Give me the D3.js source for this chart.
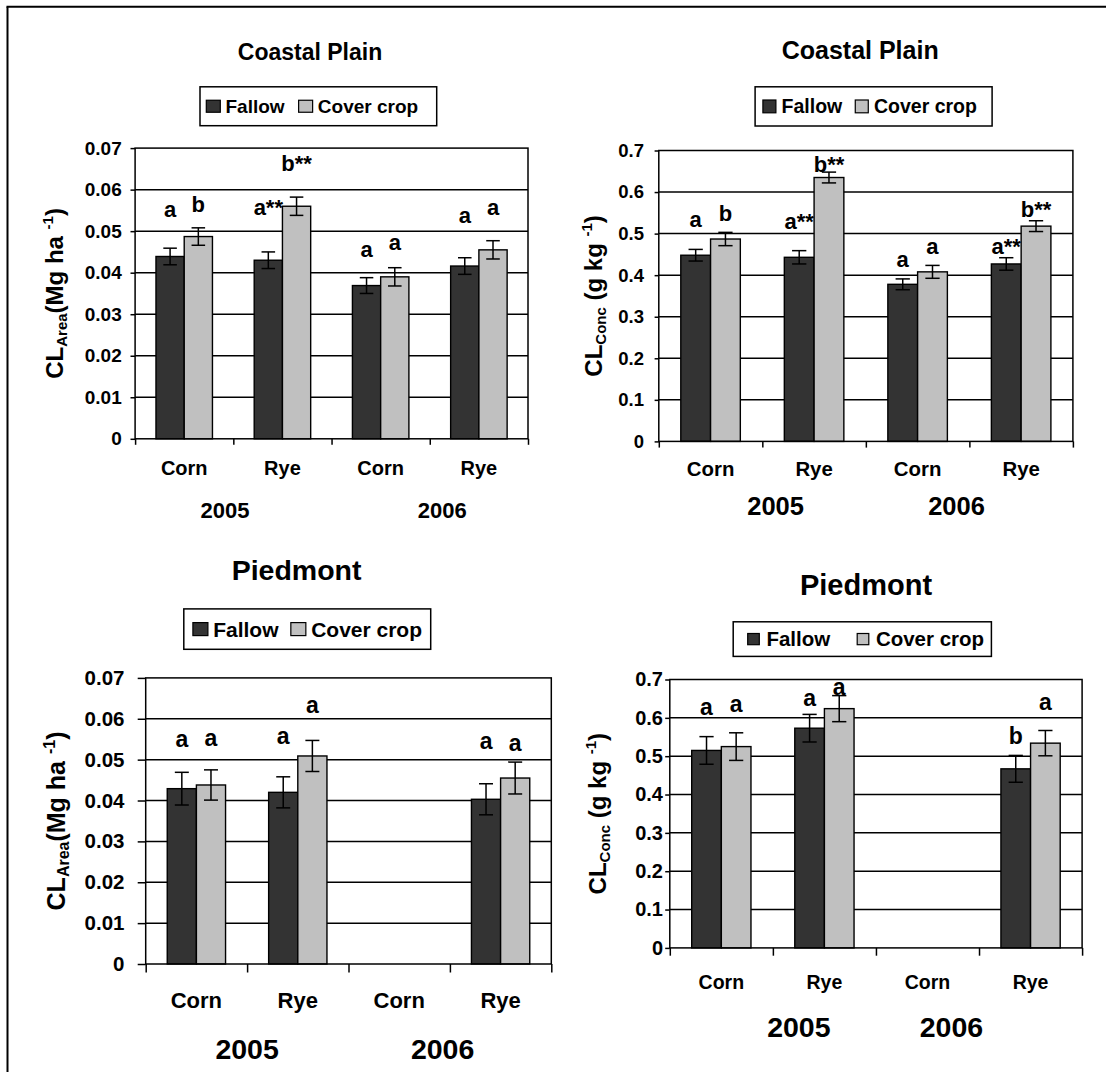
<!DOCTYPE html>
<html>
<head>
<meta charset="utf-8">
<script src="https://cdn.jsdelivr.net/npm/d3@7"></script>
<style>
  body { margin: 0; background: #fff; }
  svg text { font-family: "Liberation Sans", Arial, sans-serif; font-weight: bold; fill: #000; }
</style>
</head>
<body>
<div id="chart"></div>
<script>
// ---- data ----
const categories = ["Corn", "Rye", "Corn", "Rye"];
const years = ["2005", "2006"];
const seriesNames = ["Fallow", "Cover crop"];
const seriesColors = ["#333333", "#c0c0c0"];

const areaTicks = [0, 0.01, 0.02, 0.03, 0.04, 0.05, 0.06, 0.07];
const areaTickLabels = ["0", "0.01", "0.02", "0.03", "0.04", "0.05", "0.06", "0.07"];
const concTicks = [0, 0.1, 0.2, 0.3, 0.4, 0.5, 0.6, 0.7];
const concTickLabels = ["0", "0.1", "0.2", "0.3", "0.4", "0.5", "0.6", "0.7"];

// Coastal Plain, CL area (Mg ha-1)
const cpAreaFallow = [0.0439, 0.0430, 0.0369, 0.0416];
const cpAreaFallowErr = [0.0020, 0.0020, 0.0019, 0.0020];
const cpAreaCover = [0.0487, 0.0560, 0.0390, 0.0455];
const cpAreaCoverErr = [0.0021, 0.0022, 0.0022, 0.0022];
const cpAreaFallowLetters = ["a", "a**", "a", "a"];
const cpAreaCoverLetters = ["b", "b**", "a", "a"];
const cpAreaFallowLetterAt = [0.0534, 0.0540, 0.0438, 0.0520];
const cpAreaCoverLetterAt = [0.0546, 0.0644, 0.0454, 0.0538];

// Coastal Plain, CL conc (g kg-1)
const cpConcFallow = [0.448, 0.443, 0.378, 0.427];
const cpConcFallowErr = [0.014, 0.016, 0.013, 0.015];
const cpConcCover = [0.487, 0.635, 0.408, 0.518];
const cpConcCoverErr = [0.016, 0.013, 0.0155, 0.013];
const cpConcFallowLetters = ["a", "a**", "a", "a**"];
const cpConcCoverLetters = ["b", "b**", "a", "b**"];
const cpConcFallowLetterAt = [0.516, 0.512, 0.420, 0.452];
const cpConcCoverLetterAt = [0.530, 0.648, 0.450, 0.540];

// Piedmont, CL area (no 2006 corn)
const pdAreaFallow = [0.0429, 0.0420, null, 0.0403];
const pdAreaFallowErr = [0.0040, 0.0038, null, 0.0038];
const pdAreaCover = [0.0438, 0.0509, null, 0.0455];
const pdAreaCoverErr = [0.0037, 0.0038, null, 0.0039];
const pdAreaFallowLetters = ["a", "a", null, "a"];
const pdAreaCoverLetters = ["a", "a", null, "a"];
const pdAreaFallowLetterAt = [0.0531, 0.0539, null, 0.0527];
const pdAreaCoverLetterAt = [0.0533, 0.0613, null, 0.0522];

// Piedmont, CL conc
const pdConcFallow = [0.515, 0.573, null, 0.467];
const pdConcFallowErr = [0.036, 0.036, null, 0.035];
const pdConcCover = [0.525, 0.624, null, 0.534];
const pdConcCoverErr = [0.036, 0.034, null, 0.033];
const pdConcFallowLetters = ["a", "a", null, "b"];
const pdConcCoverLetters = ["a", "a", null, "a"];
const pdConcFallowLetterAt = [0.608, 0.632, null, 0.533];
const pdConcCoverLetterAt = [0.614, 0.659, null, 0.620];

const areaTitle = {main: "CL", sub: "Area", rest: "(Mg ha ", sup: "-1", end: ")"};
const concTitle = {main: "CL", sub: "Conc", rest: " (g kg ", sup: "-1", end: ")"};

// ---- layout of the four panels ----
const panels = [
  { title: "Coastal Plain", ticks: areaTicks, tickLabels: areaTickLabels, yTitle: areaTitle,
    values: [cpAreaFallow, cpAreaCover], errs: [cpAreaFallowErr, cpAreaCoverErr],
    letters: [cpAreaFallowLetters, cpAreaCoverLetters], letterAt: [cpAreaFallowLetterAt, cpAreaCoverLetterAt],
    l: 135.1, r: 528, t: 148.1, b: 438.8,
    titleX: 310, titleY: 60, titleSize: 23,
    legend: {x: 200, y: 86.8, w: 236.7, h: 38.9, font: 19, sw: 14, sh: 12, pad: 6.3, tgap: 5.2, gap: 14},
    ytick: 4.6, xtick: 6, labelGap: 13.4, tickFont: 19,
    catFont: 20, catY: 474.5, yearFont: 22, yearY: 517.6, yearFrac: [0.2286, 0.782],
    yTitleX: 63.3, yTitleFont: 24, yTitleSub: 15, letterFont: 22 },
  { title: "Coastal Plain", ticks: concTicks, tickLabels: concTickLabels, yTitle: concTitle,
    values: [cpConcFallow, cpConcCover], errs: [cpConcFallowErr, cpConcCoverErr],
    letters: [cpConcFallowLetters, cpConcCoverLetters], letterAt: [cpConcFallowLetterAt, cpConcCoverLetterAt],
    l: 658.8, r: 1072.9, t: 150.5, b: 441.4,
    titleX: 860.2, titleY: 58.5, titleSize: 25,
    legend: {x: 755.1, y: 86.8, w: 237, h: 39.2, font: 19.5, sw: 13, sh: 12.8, pad: 7.8, tgap: 5.7, gap: 13},
    ytick: 4.2, xtick: 6.2, labelGap: 14.8, tickFont: 18.5,
    catFont: 20.4, catY: 475.9, yearFont: 25.5, yearY: 514.8, yearFrac: [0.282, 0.719],
    yTitleX: 601.7, yTitleFont: 24, yTitleSub: 15, letterFont: 22 },
  { title: "Piedmont", ticks: areaTicks, tickLabels: areaTickLabels, yTitle: areaTitle,
    values: [pdAreaFallow, pdAreaCover], errs: [pdAreaFallowErr, pdAreaCoverErr],
    letters: [pdAreaFallowLetters, pdAreaCoverLetters], letterAt: [pdAreaFallowLetterAt, pdAreaCoverLetterAt],
    l: 145.7, r: 551.3, t: 677.9, b: 964,
    titleX: 296.6, titleY: 580, titleSize: 28.5,
    legend: {x: 183.8, y: 608.9, w: 246.9, h: 40.4, font: 21, sw: 15, sh: 13, pad: 9.1, tgap: 5.3, gap: 12.3},
    ytick: 8, xtick: 8.5, labelGap: 21.2, tickFont: 20.5,
    catFont: 22, catY: 1007.6, yearFont: 28.5, yearY: 1058.5, yearFrac: [0.25, 0.732],
    yTitleX: 65, yTitleFont: 25, yTitleSub: 16, letterFont: 23 },
  { title: "Piedmont", ticks: concTicks, tickLabels: concTickLabels, yTitle: concTitle,
    values: [pdConcFallow, pdConcCover], errs: [pdConcFallowErr, pdConcCoverErr],
    letters: [pdConcFallowLetters, pdConcCoverLetters], letterAt: [pdConcFallowLetterAt, pdConcCoverLetterAt],
    l: 669.8, r: 1082.1, t: 679.5, b: 947.9,
    titleX: 866, titleY: 595.3, titleSize: 29,
    legend: {x: 733.2, y: 621.8, w: 258.2, h: 34.6, font: 20.5, sw: 11.6, sh: 11.2, pad: 14.5, tgap: 7.1, gap: 27},
    ytick: 4.6, xtick: 7.8, labelGap: 6.8, tickFont: 20,
    catFont: 19.5, catY: 988.6, yearFont: 28.5, yearY: 1037.1, yearFrac: [0.313, 0.683],
    yTitleX: 605.9, yTitleFont: 24, yTitleSub: 15, letterFont: 23 }
];

const svg = d3.select("#chart").append("svg")
    .attr("width", 1106).attr("height", 1072);
svg.append("rect").attr("width", 1106).attr("height", 1072).attr("fill", "#fff");

// outer frame (only left and top edges show in the figure)
svg.append("line").attr("x1", 7.5).attr("x2", 7.5).attr("y1", 6.7).attr("y2", 1072)
    .attr("stroke", "#000").attr("stroke-width", 2);
svg.append("line").attr("x1", 6.5).attr("x2", 1106).attr("y1", 6.7).attr("y2", 6.7)
    .attr("stroke", "#000").attr("stroke-width", 2);

function drawPanel(p) {
  const g = svg.append("g");
  const n = categories.length;

  const x0 = d3.scaleBand().domain(d3.range(n)).range([p.l, p.r])
      .paddingInner(0.425).paddingOuter(0.2125);
  const x1 = d3.scaleBand().domain(d3.range(seriesNames.length)).range([0, x0.bandwidth()]);
  const xEdge = d3.scaleLinear().domain([0, n]).range([p.l, p.r]);
  const y = d3.scaleLinear().domain([0, p.ticks[p.ticks.length - 1]]).range([p.b, p.t]);

  // gridlines
  g.selectAll("line.grid").data(p.ticks.slice(1, -1)).join("line")
      .attr("class", "grid")
      .attr("x1", p.l).attr("x2", p.r)
      .attr("y1", d => y(d)).attr("y2", d => y(d))
      .attr("stroke", "#000").attr("stroke-width", 1.5);

  // bars
  seriesNames.forEach((s, si) => {
    const vals = p.values[si], errs = p.errs[si];
    const rows = d3.range(n).filter(i => vals[i] != null)
        .map(i => ({i: i, v: vals[i], e: errs[i]}));
    const cx = d => x0(d.i) + x1(si) + x1.bandwidth() / 2;

    g.selectAll("rect.s" + si).data(rows).join("rect")
        .attr("class", "s" + si)
        .attr("x", d => x0(d.i) + x1(si))
        .attr("y", d => y(d.v))
        .attr("width", x1.bandwidth())
        .attr("height", d => y(0) - y(d.v))
        .attr("fill", seriesColors[si])
        .attr("stroke", "#000").attr("stroke-width", 1.4);

    const cap = x1.bandwidth() * 0.24;
    const eb = g.selectAll("g.eb" + si).data(rows).join("g").attr("class", "eb" + si)
        .attr("stroke", "#000").attr("stroke-width", 1.5);
    eb.append("line").attr("x1", cx).attr("x2", cx)
        .attr("y1", d => y(d.v + d.e)).attr("y2", d => y(d.v - d.e));
    eb.append("line").attr("x1", d => cx(d) - cap).attr("x2", d => cx(d) + cap)
        .attr("y1", d => y(d.v + d.e)).attr("y2", d => y(d.v + d.e));
    eb.append("line").attr("x1", d => cx(d) - cap).attr("x2", d => cx(d) + cap)
        .attr("y1", d => y(d.v - d.e)).attr("y2", d => y(d.v - d.e));

    // significance letters
    const lab = d3.range(n).filter(i => p.letters[si][i] != null)
        .map(i => ({i: i, t: p.letters[si][i], at: p.letterAt[si][i]}));
    g.selectAll("text.l" + si).data(lab).join("text")
        .attr("class", "l" + si)
        .attr("x", d => x0(d.i) + x1(si) + x1.bandwidth() / 2)
        .attr("y", d => y(d.at))
        .attr("text-anchor", "middle")
        .style("font-size", p.letterFont + "px")
        .text(d => d.t);
  });

  // plot frame
  g.append("rect").attr("x", p.l).attr("y", p.t)
      .attr("width", p.r - p.l).attr("height", p.b - p.t)
      .attr("fill", "none").attr("stroke", "#000").attr("stroke-width", 1.5);

  // y axis
  const yAxis = g.append("g").attr("transform", `translate(${p.l},0)`)
      .call(d3.axisLeft(y).tickValues(p.ticks)
        .tickFormat((d, i) => p.tickLabels[i])
        .tickSize(p.ytick).tickSizeOuter(0).tickPadding(p.labelGap - p.ytick));
  yAxis.select(".domain").remove();
  yAxis.selectAll("line").attr("stroke", "#000").attr("stroke-width", 1.5);
  yAxis.selectAll("text").style("font-size", p.tickFont + "px")
      .style("font-family", '"Liberation Sans", Arial, sans-serif').style("font-weight", "bold");

  // x axis: ticks at category edges
  const xAxis = g.append("g").attr("transform", `translate(0,${p.b})`)
      .call(d3.axisBottom(xEdge).tickValues(d3.range(n + 1)).tickFormat("")
        .tickSize(p.xtick).tickSizeOuter(0));
  xAxis.select(".domain").remove();
  xAxis.selectAll("line").attr("stroke", "#000").attr("stroke-width", 1.5);

  g.selectAll("text.cat").data(categories).join("text")
      .attr("class", "cat")
      .attr("x", (d, i) => x0(i) + x0.bandwidth() / 2)
      .attr("y", p.catY)
      .attr("text-anchor", "middle")
      .style("font-size", p.catFont + "px")
      .text(d => d);

  g.selectAll("text.year").data(years).join("text")
      .attr("class", "year")
      .attr("x", (d, i) => p.l + (p.r - p.l) * p.yearFrac[i])
      .attr("y", p.yearY)
      .attr("text-anchor", "middle")
      .style("font-size", p.yearFont + "px")
      .text(d => d);

  // title
  g.append("text").attr("x", p.titleX).attr("y", p.titleY)
      .attr("text-anchor", "middle")
      .style("font-size", p.titleSize + "px")
      .text(p.title);

  // y title with subscript and superscript
  const yt = g.append("text")
      .attr("transform", `translate(${p.yTitleX},${(p.t + p.b) / 2}) rotate(-90)`)
      .attr("text-anchor", "middle")
      .style("font-size", p.yTitleFont + "px");
  const subDy = p.yTitleFont * 0.16, supDy = p.yTitleFont * 0.42;
  yt.append("tspan").text(p.yTitle.main);
  yt.append("tspan").attr("dy", subDy).style("font-size", p.yTitleSub + "px").text(p.yTitle.sub);
  yt.append("tspan").attr("dy", -subDy).text(p.yTitle.rest);
  yt.append("tspan").attr("dy", -supDy).style("font-size", p.yTitleSub + "px").text(p.yTitle.sup);
  yt.append("tspan").attr("dy", supDy).text(p.yTitle.end);

  // legend
  const lg = p.legend;
  g.append("rect").attr("x", lg.x).attr("y", lg.y).attr("width", lg.w).attr("height", lg.h)
      .attr("fill", "#fff").attr("stroke", "#000").attr("stroke-width", 1.5);
  let lx = lg.x + lg.pad;
  seriesNames.forEach((s, si) => {
    g.append("rect").attr("x", lx).attr("y", lg.y + lg.h / 2 - lg.sh / 2)
        .attr("width", lg.sw).attr("height", lg.sh)
        .attr("fill", seriesColors[si]).attr("stroke", "#000").attr("stroke-width", 1.2);
    lx += lg.sw + lg.tgap;
    const t = g.append("text").attr("x", lx).attr("y", lg.y + lg.h / 2)
        .attr("dy", "0.36em")
        .style("font-size", lg.font + "px")
        .text(s);
    lx += t.node().getComputedTextLength() + lg.gap;
  });
}

panels.forEach(drawPanel);
</script>
</body>
</html>
